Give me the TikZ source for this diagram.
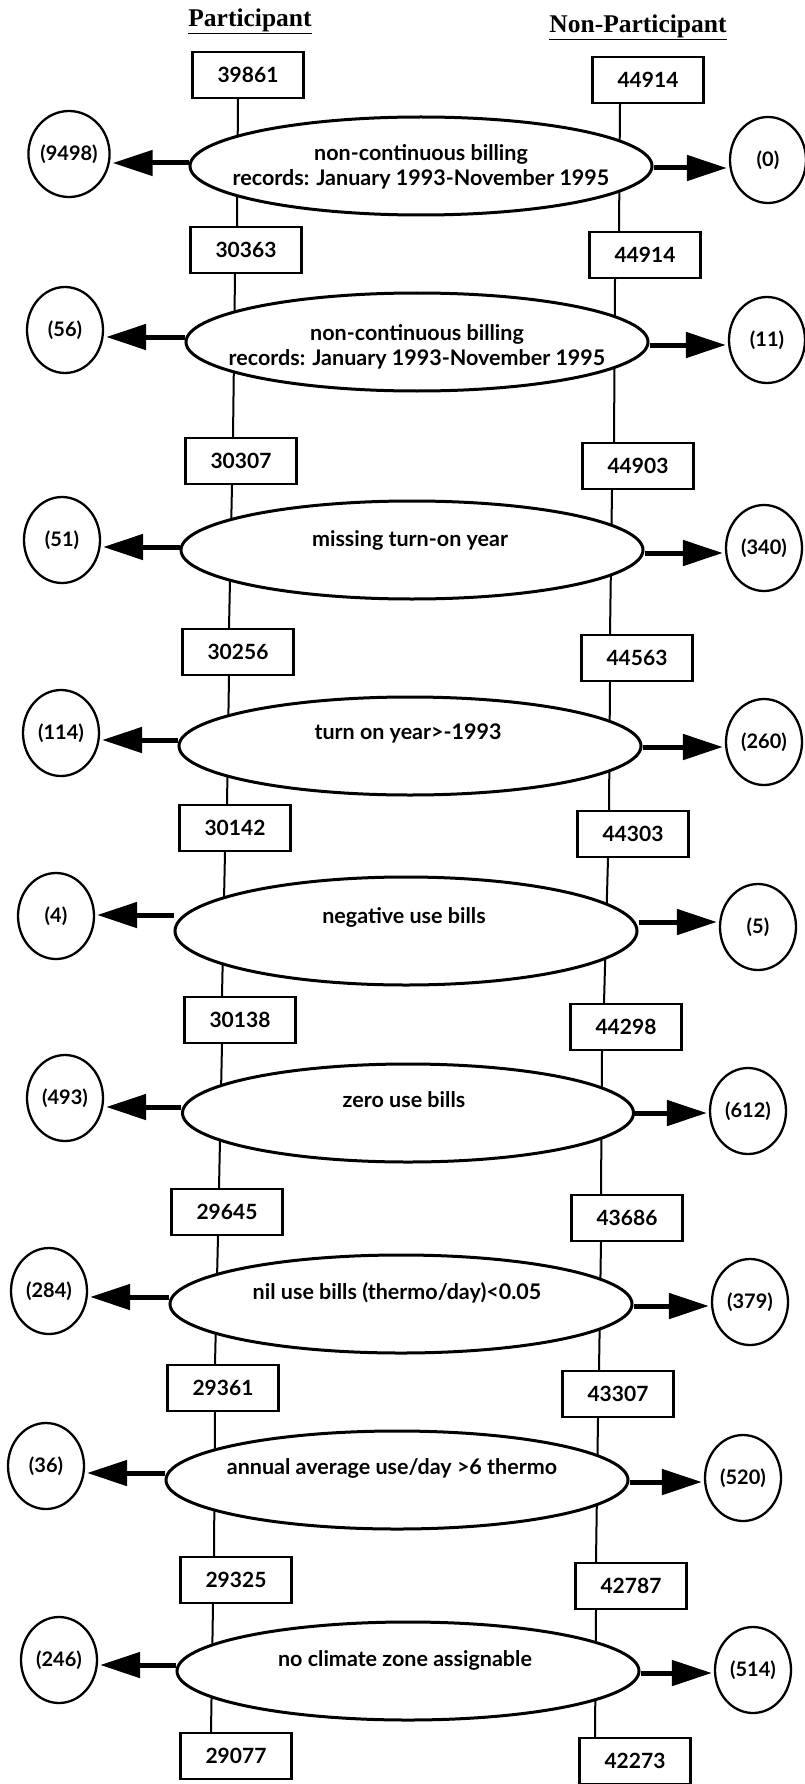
\documentclass[tikz,border=0pt]{standalone}
\usepackage{fontspec}
\setmainfont{Lato}
\newfontfamily\titlefont{Liberation Serif}
\usetikzlibrary{shapes.geometric,arrows.meta,backgrounds}
\begin{document}
\begin{tikzpicture}[x=1pt,y=-1pt,
  cnt/.style={draw, fill=white, line width=2.3pt, minimum width=111pt, minimum height=46pt, inner sep=0pt, font=\bfseries\fontsize{21}{21}\selectfont},
  crit/.style={ellipse, draw, fill=white, line width=3pt, minimum width=462pt, minimum height=98pt, inner sep=0pt},
  ctext/.style={font=\bfseries\fontsize{21.5}{25}\selectfont, align=center, inner sep=0pt},
  excl/.style={ellipse, draw, line width=2.3pt, minimum width=76pt, minimum height=86pt, inner sep=0pt, font=\bfseries\fontsize{20}{20}\selectfont},
  flow/.style={line width=2pt},
  drop/.style={line width=5pt, -{Triangle[length=40pt,width=25pt]}, shorten >=2pt},
  head/.style={font=\titlefont\bfseries\fontsize{25.5}{25.5}\selectfont}
]
\useasboundingbox (0,0) rectangle (804,1784);

% column headings
\node[head] (hp) at (250,21) {\underline{Participant}};
\node[head] (hn) at (638,27) {\underline{Non-Participant}};

% count boxes, participant
\node[cnt] (L0) at (248,75)   {39861};
\node[cnt] (L1) at (246,250)  {30363};
\node[cnt] (L2) at (241,461)  {30307};
\node[cnt] (L3) at (238,652)  {30256};
\node[cnt] (L4) at (235,828)  {30142};
\node[cnt] (L5) at (240,1020) {30138};
\node[cnt] (L6) at (227,1212) {29645};
\node[cnt] (L7) at (223,1388) {29361};
\node[cnt] (L8) at (236,1580) {29325};
\node[cnt] (L9) at (236,1756) {29077};

% count boxes, non-participant
\node[cnt] (R0) at (648,80)   {44914};
\node[cnt] (R1) at (645,255)  {44914};
\node[cnt] (R2) at (638,466)  {44903};
\node[cnt] (R3) at (637,658)  {44563};
\node[cnt] (R4) at (633,834)  {44303};
\node[cnt] (R5) at (626,1027) {44298};
\node[cnt] (R6) at (627,1218) {43686};
\node[cnt] (R7) at (618,1394) {43307};
\node[cnt] (R8) at (631,1586) {42787};
\node[cnt] (R9) at (635,1761) {42273};

% criteria ellipses
\node[crit] (E1) at (421,166)  {};
\node[crit] (E2) at (417,342)  {};
\node[crit] (E3) at (412,550)  {};
\node[crit] (E4) at (410,746)  {};
\node[crit, minimum height=108pt] (E5) at (406,931) {};
\node[crit, minimum width=451pt] (E6) at (408,1113) {};
\node[crit] (E7) at (401,1304) {};
\node[crit] (E8) at (397,1480) {};
\node[crit] (E9) at (408,1671) {};

\node[ctext] (T1) at (421,167)  {non-continuous billing\\records: January 1993-November 1995};
\node[ctext] (T2) at (417,347)  {non-continuous billing\\records: January 1993-November 1995};
\node[ctext] (T3) at (410,540)  {missing turn-on year};
\node[ctext] (T4) at (408,733)  {turn on year>-1993};
\node[ctext] (T5) at (404,917)  {negative use bills};
\node[ctext] (T6) at (404,1100) {zero use bills};
\node[ctext] (T7) at (397,1293) {nil use bills (thermo/day)<0.05};
\node[ctext] (T8) at (392,1468) {annual average use/day >6 thermo};
\node[ctext] (T9) at (405,1660) {no climate zone assignable};

% excluded counts
\node[excl] (CL1) at (69,154)   {(9498)};
\node[excl] (CL2) at (65,330)   {(56)};
\node[excl] (CL3) at (62,540)   {(51)};
\node[excl] (CL4) at (61,733)   {(114)};
\node[excl] (CL5) at (56,916)   {(4)};
\node[excl] (CL6) at (65,1098)  {(493)};
\node[excl] (CL7) at (49,1291)  {(284)};
\node[excl] (CL8) at (46,1466)  {(36)};
\node[excl] (CL9) at (59,1660)  {(246)};

\node[excl] (CR1) at (768,160)  {(0)};
\node[excl] (CR2) at (767,340)  {(11)};
\node[excl] (CR3) at (764,548)  {(340)};
\node[excl] (CR4) at (764,742)  {(260)};
\node[excl] (CR5) at (758,927)  {(5)};
\node[excl] (CR6) at (748,1111) {(612)};
\node[excl] (CR7) at (750,1302) {(379)};
\node[excl] (CR8) at (743,1478) {(520)};
\node[excl] (CR9) at (753,1670) {(514)};

% arrow levels
\coordinate (yl1) at (0,163);  \coordinate (yr1) at (0,168);
\coordinate (yl2) at (0,337);  \coordinate (yr2) at (0,345);
\coordinate (yl3) at (0,547);  \coordinate (yr3) at (0,553);
\coordinate (yl4) at (0,740);  \coordinate (yr4) at (0,747);
\coordinate (yl5) at (0,915);  \coordinate (yr5) at (0,922);
\coordinate (yl6) at (0,1107); \coordinate (yr6) at (0,1113);
\coordinate (yl7) at (0,1297); \coordinate (yr7) at (0,1306);
\coordinate (yl8) at (0,1473); \coordinate (yr8) at (0,1482);
\coordinate (yl9) at (0,1665); \coordinate (yr9) at (0,1673);

\begin{scope}[on background layer]
% participant flow
\draw[flow] ([xshift=-10pt]L0.south) -- ([xshift=-9pt]L1.north);
\draw[flow] ([xshift=-11pt]L1.south) -- ([xshift=-8pt]L2.north);
\draw[flow] ([xshift=-9pt]L2.south)  -- ([xshift=-9pt]L3.north);
\draw[flow] ([xshift=-9pt]L3.south)  -- ([xshift=-8pt]L4.north);
\draw[flow] ([xshift=-10pt]L4.south) -- ([xshift=-18pt]L5.north);
\draw[flow] ([xshift=-18pt]L5.south) -- ([xshift=-8pt]L6.north);
\draw[flow] ([xshift=-9pt]L6.south)  -- ([xshift=-8pt]L7.north);
\draw[flow] ([xshift=-8pt]L7.south)  -- ([xshift=-22pt]L8.north);
\draw[flow] ([xshift=-23pt]L8.south) -- ([xshift=-25pt]L9.north);
% non-participant flow
\draw[flow] ([xshift=-28pt]R0.south) -- ([xshift=-26pt]R1.north);
\draw[flow] ([xshift=-30pt]R1.south) -- ([xshift=-24pt]R2.north);
\draw[flow] ([xshift=-26pt]R2.south) -- ([xshift=-27pt]R3.north);
\draw[flow] ([xshift=-27pt]R3.south) -- ([xshift=-24pt]R4.north);
\draw[flow] ([xshift=-25pt]R4.south) -- ([xshift=-22pt]R5.north);
\draw[flow] ([xshift=-24pt]R5.south) -- ([xshift=-26pt]R6.north);
\draw[flow] ([xshift=-26pt]R6.south) -- ([xshift=-19pt]R7.north);
\draw[flow] ([xshift=-20pt]R7.south) -- ([xshift=-35pt]R8.north);
\draw[flow] ([xshift=-35pt]R8.south) -- ([xshift=-40pt]R9.north);
% exclusions
\foreach \i in {1,...,9}{
  \draw[drop] (E\i.west |- yl\i) -- (CL\i.east |- yl\i);
  \draw[drop] (E\i.east |- yr\i) -- (CR\i.west |- yr\i);
}
\end{scope}
\end{tikzpicture}
\end{document}
